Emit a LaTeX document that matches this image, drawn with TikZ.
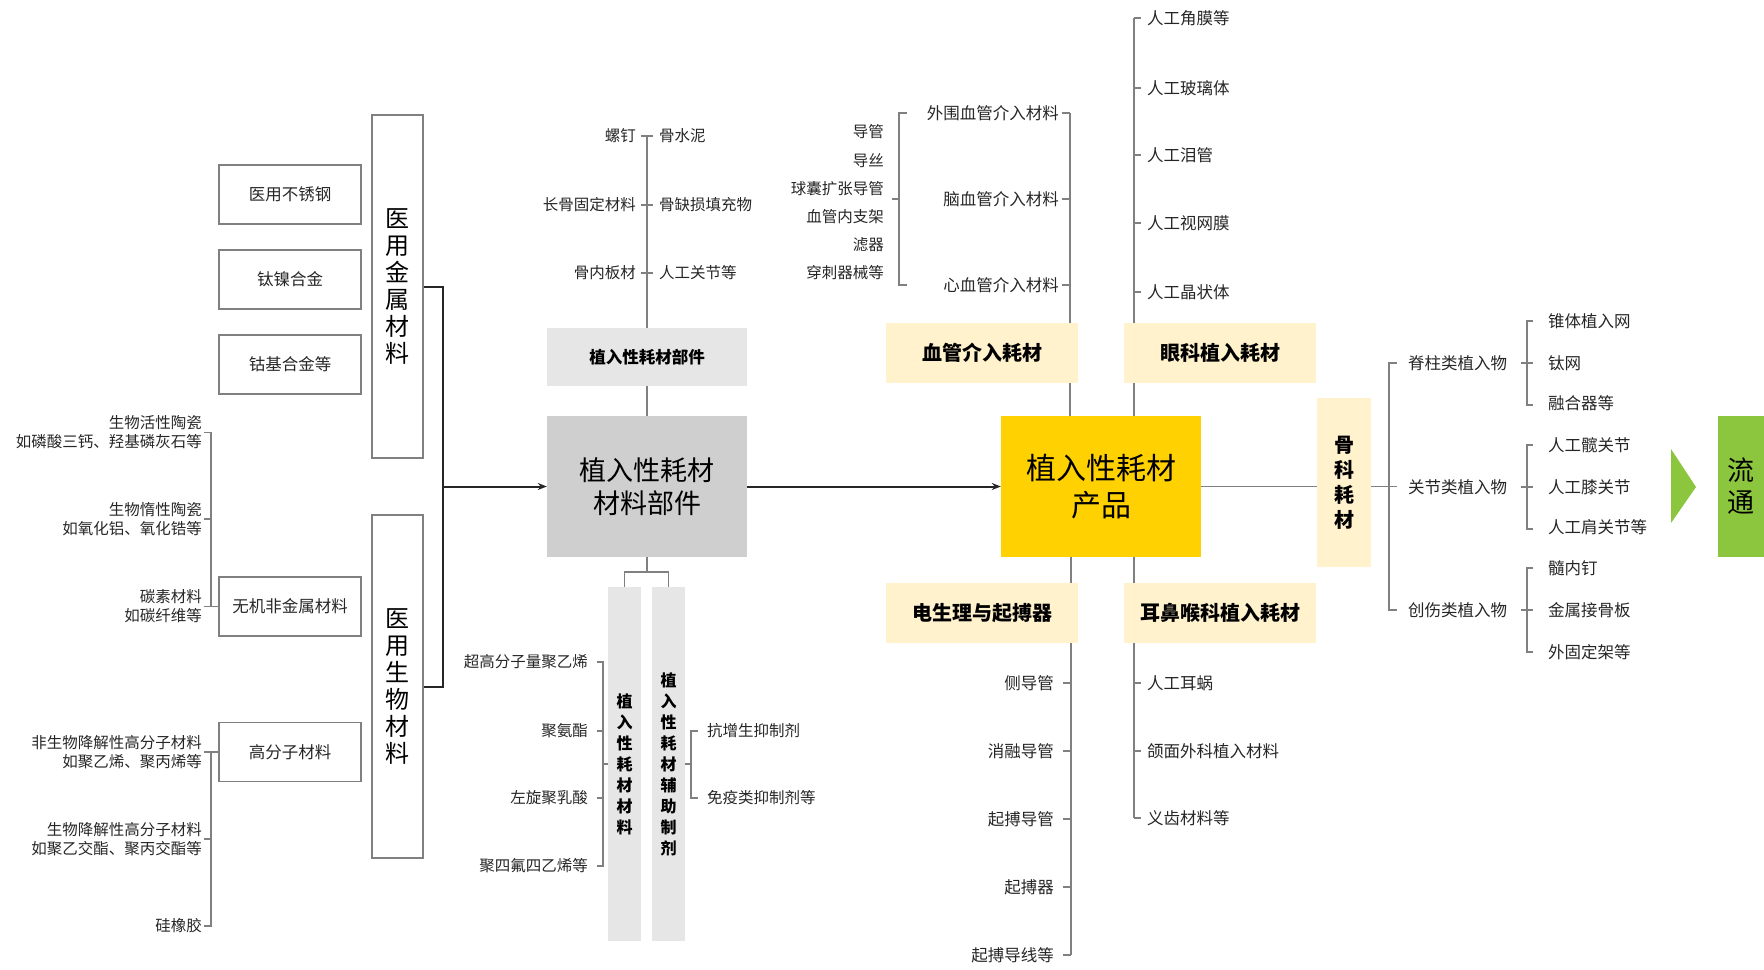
\documentclass[tikz,border=0pt]{standalone}
\usepackage{fontspec}
\newfontfamily\cjk{Noto Sans CJK SC}
\usetikzlibrary{arrows.meta,backgrounds}
\definecolor{lnc}{HTML}{808080}
\definecolor{gbx}{HTML}{D0CFCF}
\definecolor{lgb}{HTML}{E6E6E6}
\definecolor{lyl}{HTML}{FFF2CC}
\definecolor{gold}{HTML}{FFD100}
\definecolor{grn}{HTML}{8CC63E}
\definecolor{txt}{HTML}{262626}
\begin{document}
\begin{tikzpicture}[x=1pt,y=-1pt,
  ln/.style={draw=lnc,line width=1.2pt},
  brk/.style={draw=black!85,line width=2pt},
  arr/.style={draw=black!85,line width=2pt,-{Stealth[length=9pt,width=7pt]}},
  lbl/.style={font=\cjk\fontsize{15.5}{19}\selectfont,text=txt,inner sep=0pt},
  lblb/.style={font=\cjk\fontsize{16.5}{20}\selectfont,text=txt,inner sep=0pt},
  wbox/.style={draw=lnc,line width=1.2pt,minimum width=142pt,minimum height=59pt,inner sep=0pt,font=\cjk\fontsize{16.5}{20}\selectfont,text=txt},
  tbox/.style={draw=lnc,line width=1.2pt,minimum width=51pt,minimum height=343pt,inner sep=0pt,font=\cjk\fontsize{24}{27}\selectfont,align=center},
  ybox/.style={fill=lyl,minimum width=192pt,minimum height=60pt,inner sep=0pt,font=\cjk\bfseries\fontsize{20}{22}\selectfont},
  colbox/.style={fill=lgb,minimum width=33pt,minimum height=354pt,inner sep=0pt,align=center,font=\cjk\bfseries\fontsize{16}{21}\selectfont}
]
\useasboundingbox (0,0) rectangle (1764,969);

% ---------- left: materials ----------
\node[wbox] (m1) at (290,194.5) {医用不锈钢};
\node[wbox] (m2) at (290,279.5) {钛镍合金};
\node[wbox] (m3) at (290,364.5) {钴基合金等};
\node[wbox] (wuji) at (290,606.5) {无机非金属材料};
\node[wbox] (gfz) at (290,752) {高分子材料};
\node[tbox] (jinshu) at (397.5,286.5) {医\\用\\金\\属\\材\\料};
\node[tbox] (shengwu) at (397.5,686.5) {医\\用\\生\\物\\材\\料};

\node[lbl,anchor=east,align=right] (c1) at (202,432.5) {生物活性陶瓷\\如磷酸三钙、羟基磷灰石等};
\node[lbl,anchor=east,align=right] (c2) at (202,519) {生物惰性陶瓷\\如氧化铝、氧化锆等};
\node[lbl,anchor=east,align=right] (c3) at (202,606.5) {碳素材料\\如碳纤维等};
\node[lbl,anchor=east,align=right] (p1) at (202,752) {非生物降解性高分子材料\\如聚乙烯、聚丙烯等};
\node[lbl,anchor=east,align=right] (p2) at (202,839) {生物降解性高分子材料\\如聚乙交酯、聚丙交酯等};
\node[lbl,anchor=east,align=right] (p3) at (202,926) {硅橡胶};

\coordinate (sp1) at (211,606.5);
\coordinate (sp2) at (211,926);
\draw[ln] ([xshift=2]c1.east) -| (sp1);
\draw[ln] ([xshift=2]c2.east) -- (c2.east -| sp1);
\draw[ln] ([xshift=2]c3.east) -- (wuji.west);
\draw[ln] (gfz.west) -- (gfz.west -| sp2) -- (sp2) -- ([xshift=2]p3.east);
\draw[ln] ([xshift=2]p1.east) -- (p1.east -| sp2);
\draw[ln] ([xshift=2]p2.east) -- (p2.east -| sp2);

\coordinate (bk) at (443,486.5);
\draw[brk] (jinshu.east) -| (bk) |- (shengwu.east);

% ---------- middle: parts ----------
\node[fill=gbx,minimum width=200pt,minimum height=141pt,inner sep=0pt,align=center,font=\cjk\fontsize{27}{33}\selectfont,text=black] (gbox) at (647,486.5) {植入性耗材\\材料部件};
\node[fill=lgb,minimum width=200pt,minimum height=58pt,inner sep=0pt,font=\cjk\bfseries\fontsize{16.5}{20}\selectfont,text=black] (bujian) at (647,357) {植入性耗材部件};
\draw[arr] (bk) -- (bk -| gbox.west);

\node[lbl,anchor=east] (a1) at (636,136) {螺钉};
\node[lbl,anchor=west] (b1) at (659,136) {骨水泥};
\node[lbl,anchor=east] (a2) at (636,205) {长骨固定材料};
\node[lbl,anchor=west] (b2) at (659,205) {骨缺损填充物};
\node[lbl,anchor=east] (a3) at (636,273) {骨内板材};
\node[lbl,anchor=west] (b3) at (659,273) {人工关节等};
\coordinate (bt) at (647,136);
\draw[ln] (bt) -- (bujian.north);
\draw[ln] (bujian.south) -- (gbox.north);
\draw[ln] ([xshift=5]a1.east) -- ([xshift=-6]b1.west);
\draw[ln] ([xshift=5]a2.east) -- ([xshift=-6]b2.west);
\draw[ln] ([xshift=5]a3.east) -- ([xshift=-6]b3.west);

\node[colbox] (col1) at (624.5,764) {植\\入\\性\\耗\\材\\材\\料};
\node[colbox] (col2) at (668.5,764) {植\\入\\性\\耗\\材\\辅\\助\\制\\剂};
\coordinate (gj) at (647,572);
\draw[ln] (gbox.south) -- (gj);
\draw[ln] (col1.north) |- (gj) -| (col2.north);

\node[lbl,anchor=east] (k1) at (588,662) {超高分子量聚乙烯};
\node[lbl,anchor=east] (k2) at (588,731) {聚氨酯};
\node[lbl,anchor=east] (k3) at (588,798) {左旋聚乳酸};
\node[lbl,anchor=east] (k4) at (588,866) {聚四氟四乙烯等};
\coordinate (s2b) at (603,866);
\draw[ln] ([xshift=9]k1.east) -| (s2b) -- ([xshift=9]k4.east);
\draw[ln] ([xshift=9]k2.east) -- (k2.east -| s2b);
\draw[ln] ([xshift=9]k3.east) -- (k3.east -| s2b);
\draw[ln] (col1.west) -- (col1.west -| s2b);

\node[lbl,anchor=west] (f1) at (707,731) {抗增生抑制剂};
\node[lbl,anchor=west] (f2) at (707,798) {免疫类抑制剂等};
\coordinate (s3) at (691,764);
\draw[ln] (col2.east) -- (s3);
\draw[ln] ([xshift=-9]f1.west) -| (s3) |- ([xshift=-9]f2.west);

% ---------- product ----------
\node[fill=gold,minimum width=200pt,minimum height=141pt,inner sep=0pt,align=center,font=\cjk\fontsize{30}{37}\selectfont,text=black] (prod) at (1101,486.5) {植入性耗材\\产品};
\draw[arr] (gbox.east) -- (prod.west);

\node[ybox] (xg) at (982,353) {血管介入耗材};
\node[ybox] (yk) at (1220,353) {眼科植入耗材};
\node[ybox] (dsl) at (982,613) {电生理与起搏器};
\node[ybox] (ebh) at (1220,613) {耳鼻喉科植入耗材};

% vascular
\node[lblb,anchor=east] (v1) at (1059,113) {外围血管介入材料};
\node[lblb,anchor=east] (v2) at (1059,199) {脑血管介入材料};
\node[lblb,anchor=east] (v3) at (1059,285) {心血管介入材料};
\coordinate (vt) at (1070,113);
\node[lbl,anchor=east] (d1) at (884,132) {导管};
\node[lbl,anchor=east] (d2) at (884,161) {导丝};
\node[lbl,anchor=east] (d3) at (884,189) {球囊扩张导管};
\node[lbl,anchor=east] (d4) at (884,217) {血管内支架};
\node[lbl,anchor=east] (d5) at (884,245) {滤器};
\node[lbl,anchor=east] (d6) at (884,273) {穿刺器械等};
\coordinate (vb1) at (907,113);
\coordinate (vb2) at (907,285);
\coordinate (vbm) at (899,199);
\coordinate (vbl) at (892,199);
\draw[ln] (vb1) -| (vbm) |- (vb2);
\draw[ln] (vbm) -- (vbl);
\draw[ln] ([xshift=3]v1.east) -- (v1.east -| vt);
\draw[ln] ([xshift=3]v2.east) -- (v2.east -| vt);
\draw[ln] ([xshift=3]v3.east) -- (v3.east -| vt);

% eye
\coordinate (et) at (1134,18);
\node[lblb,anchor=west] (e1) at (1147,18) {人工角膜等};
\node[lblb,anchor=west] (e2) at (1147,88) {人工玻璃体};
\node[lblb,anchor=west] (e3) at (1147,155) {人工泪管};
\node[lblb,anchor=west] (e4) at (1147,223) {人工视网膜};
\node[lblb,anchor=west] (e5) at (1147,292) {人工晶状体};
\foreach \n in {e1,e2,e3,e4,e5} \draw[ln] (\n.west -| et) -- ([xshift=-6]\n.west);

% electrophysiology
\coordinate (pb1) at (1071,955);
\node[lblb,anchor=east] (q1) at (1054,683) {侧导管};
\node[lblb,anchor=east] (q2) at (1054,751) {消融导管};
\node[lblb,anchor=east] (q3) at (1054,819) {起搏导管};
\node[lblb,anchor=east] (q4) at (1054,887) {起搏器};
\node[lblb,anchor=east] (q5) at (1054,955) {起搏导线等};
\foreach \n in {q1,q2,q3,q4,q5} \draw[ln] ([xshift=9]\n.east) -- (\n.east -| pb1);

% ENT
\coordinate (pb2) at (1134,818);
\node[lblb,anchor=west] (r1) at (1147,683) {人工耳蜗};
\node[lblb,anchor=west] (r2) at (1147,751) {颌面外科植入材料};
\node[lblb,anchor=west] (r3) at (1147,818) {义齿材料等};
\foreach \n in {r1,r2,r3} \draw[ln] (\n.west -| pb2) -- ([xshift=-6]\n.west);

\begin{pgfonlayer}{background}
\draw[ln] (vt) -- (vt |- prod.north);
\draw[ln] (et) -- (et |- prod.north);
\draw[ln] (prod.south -| pb1) -- (pb1);
\draw[ln] (prod.south -| pb2) -- (pb2);
\end{pgfonlayer}

% ---------- orthopaedics ----------
\node[fill=lyl,minimum width=54pt,minimum height=169pt,inner sep=0pt,align=center,font=\cjk\bfseries\fontsize{20}{25}\selectfont] (gk) at (1344,482.5) {骨\\科\\耗\\材};
\draw[ln] (prod.east) -- (prod.east -| gk.west);
\coordinate (os) at (1389,486.5);
\coordinate (ost) at (1397,363);
\coordinate (osm) at (1397,486.5);
\coordinate (osb) at (1397,610);
\draw[ln] (os -| gk.east) -- (osm);
\draw[ln] (ost) -| (os) |- (osb);
\node[lblb,anchor=west] (o1) at (1408,363) {脊柱类植入物};
\node[lblb,anchor=west] (o2) at (1408,487) {关节类植入物};
\node[lblb,anchor=west] (o3) at (1408,610) {创伤类植入物};

\foreach \yy/\nm in {363/1,487/2,610/3}{
  \coordinate (sl\nm) at (1521,\yy);
  \coordinate (sm\nm) at (1527,\yy);
  \coordinate (st\nm) at (1533,\yy-42);
  \coordinate (sb\nm) at (1533,\yy+42);
  \coordinate (sr\nm) at (1533,\yy);
  \draw[ln] (st\nm) -| (sm\nm) |- (sb\nm);
  \draw[ln] (sl\nm) -- (sr\nm);
}
\node[lblb,anchor=west] (u1) at (1548,321) {锥体植入网};
\node[lblb,anchor=west] (u2) at (1548,363) {钛网};
\node[lblb,anchor=west] (u3) at (1548,403) {融合器等};
\node[lblb,anchor=west] (u4) at (1548,445) {人工髋关节};
\node[lblb,anchor=west] (u5) at (1548,487) {人工膝关节};
\node[lblb,anchor=west] (u6) at (1548,527) {人工肩关节等};
\node[lblb,anchor=west] (u7) at (1548,568) {髓内钉};
\node[lblb,anchor=west] (u8) at (1548,610) {金属接骨板};
\node[lblb,anchor=west] (u9) at (1548,652) {外固定架等};

% ---------- circulation ----------
\fill[grn] (1671,449) -- (1696,487) -- (1671,523) -- cycle;
\node[fill=grn,minimum width=46pt,minimum height=141pt,inner sep=0pt,align=center,font=\cjk\fontsize{27}{32}\selectfont,text=black] (lt) at (1741,486.5) {流\\通};
\end{tikzpicture}
\end{document}
